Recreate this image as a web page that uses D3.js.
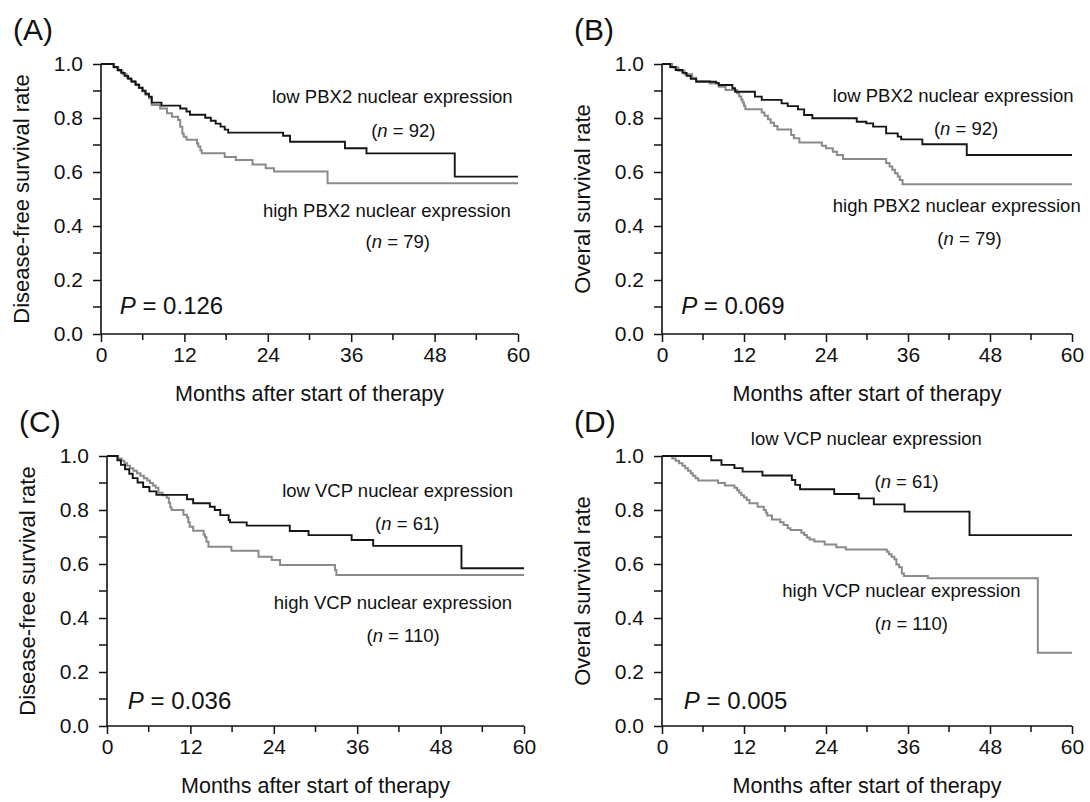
<!DOCTYPE html>
<html>
<head>
<meta charset="utf-8">
<script src="https://cdn.jsdelivr.net/npm/d3@7"></script>
<style>
  html, body { margin: 0; padding: 0; background: #fff; }
  svg { display: block; }
  text { font-family: "Liberation Sans", Arial, Helvetica, sans-serif; fill: #111; }
</style>
</head>
<body>
<svg id="chart" width="1090" height="802"></svg>
<script>
// ---------------- data ----------------
const xTickValues = [0, 12, 24, 36, 48, 60];
const xMinorTicks = [6, 18, 30, 42, 54];
const yTickValues = [0, 0.2, 0.4, 0.6, 0.8, 1.0];
const yMinorTicks = [0.1, 0.3, 0.5, 0.7, 0.9];
const xTitle = "Months after start of therapy";

// [month, survival]
const lowA = [[0,1],[1.8,.989],[2.4,.978],[2.9,.967],[3.4,.956],[3.9,.945],[4.4,.934],[5.0,.923],[5.5,.912],[6.0,.901],[6.4,.89],[6.9,.879],[7.3,.857],[8.7,.846],[11.4,.835],[12.3,.824],[12.8,.812],[15.0,.801],[15.8,.79],[16.5,.779],[17.2,.768],[17.8,.757],[18.3,.746],[26.2,.734],[27.2,.712],[35.1,.688],[38.2,.669],[50.9,.583]];
const highA = [[0,1],[1.9,.987],[2.5,.975],[3.1,.962],[3.7,.949],[4.3,.937],[4.9,.924],[5.4,.911],[5.9,.899],[6.4,.886],[6.9,.873],[7.3,.848],[8.5,.835],[9.5,.818],[10.2,.805],[11.1,.793],[11.4,.768],[11.7,.743],[11.9,.731],[12.3,.719],[13.8,.706],[14.0,.694],[14.3,.681],[14.5,.669],[17.8,.656],[19.4,.644],[21.8,.628],[23.7,.614],[24.9,.602],[32.6,.558]];

const lowB = [[0,1],[1.2,.989],[2.0,.978],[3.0,.967],[3.6,.956],[4.2,.945],[5.0,.934],[7.9,.93],[8.3,.922],[10.3,.91],[10.7,.897],[13.6,.879],[14.6,.867],[17.5,.854],[18.4,.844],[19.9,.832],[20.8,.811],[22.0,.799],[28.5,.786],[29.9,.78],[30.9,.768],[32.8,.743],[34.5,.731],[35.0,.721],[38.1,.703],[44.6,.663]];
const highB = [[0,1],[1.5,.987],[2.4,.975],[3.3,.962],[4.4,.949],[5.0,.937],[7.0,.928],[8.3,.916],[9.3,.904],[11.0,.892],[11.3,.88],[11.6,.868],[11.8,.857],[12.0,.845],[12.2,.832],[14.6,.82],[15.0,.808],[15.5,.795],[15.9,.782],[16.4,.77],[16.9,.757],[18.9,.737],[19.3,.725],[20.1,.709],[23.4,.697],[24.0,.688],[25.0,.675],[25.6,.663],[26.5,.648],[32.8,.633],[33.3,.62],[33.7,.608],[34.1,.595],[34.5,.583],[34.8,.57],[35.2,.555]];

const lowC = [[0,1],[1.5,.984],[2.0,.967],[2.6,.951],[3.2,.934],[3.7,.918],[4.4,.902],[5.2,.885],[6.1,.869],[7.1,.856],[11.5,.84],[12.4,.825],[14.8,.812],[15.5,.8],[16.3,.781],[17.5,.763],[17.7,.754],[20.1,.742],[26.3,.722],[29.0,.707],[35.2,.689],[38.3,.667],[51.0,.584]];
const highC = [[0,1],[1.6,.991],[2.1,.982],[2.5,.973],[2.9,.964],[3.3,.955],[3.8,.945],[4.3,.936],[4.8,.927],[5.3,.918],[5.8,.909],[6.2,.9],[6.6,.891],[7.0,.882],[7.4,.864],[8.0,.855],[8.6,.845],[8.9,.827],[9.1,.809],[9.3,.8],[11.0,.782],[11.5,.773],[11.7,.755],[11.9,.738],[12.4,.723],[13.9,.709],[14.1,.7],[14.3,.682],[14.6,.664],[17.9,.649],[21.8,.627],[23.7,.615],[24.9,.596],[32.8,.578],[33.0,.559]];

const lowD = [[0,1],[7.2,.984],[8.7,.967],[10.6,.955],[11.8,.942],[14.7,.928],[19.0,.911],[19.5,.893],[20.2,.877],[25.2,.859],[28.8,.843],[31.0,.821],[35.5,.794],[45.0,.707]];
const highD = [[0,1],[1.5,.991],[2.0,.982],[2.5,.973],[3.0,.964],[3.4,.955],[3.8,.945],[4.2,.936],[4.5,.927],[4.9,.918],[5.3,.909],[8.2,.9],[9.2,.891],[10.6,.882],[11.0,.873],[11.3,.864],[11.6,.855],[12.0,.846],[12.4,.837],[12.8,.825],[14.0,.812],[14.9,.8],[15.2,.79],[15.4,.78],[16.1,.765],[17.3,.755],[17.8,.744],[18.4,.732],[18.8,.726],[20.4,.716],[20.8,.707],[21.2,.698],[21.6,.691],[22.3,.683],[23.8,.672],[25.5,.662],[26.9,.654],[32.9,.645],[33.2,.636],[33.6,.627],[34.0,.618],[34.3,.598],[34.7,.588],[35.1,.565],[35.4,.556],[38.9,.547],[55.0,.271]];

const panelLabels = ["(A)", "(B)", "(C)", "(D)"];
const yTitles = ["Disease-free survival rate", "Overal survival rate", "Disease-free survival rate", "Overal survival rate"];
const lowLabels = ["low PBX2 nuclear expression", "low PBX2 nuclear expression", "low VCP nuclear expression", "low VCP nuclear expression"];
const highLabels = ["high PBX2 nuclear expression", "high PBX2 nuclear expression", "high VCP nuclear expression", "high VCP nuclear expression"];
const lowN = ["92", "92", "61", "61"];
const highN = ["79", "79", "110", "110"];
const pValues = ["0.126", "0.069", "0.036", "0.005"];

// ---------------- layout ----------------
const layout = [
  { x0: 101, x1: 518, yb: 334, yt: 64,
    lowPos: [24.6, .874], lowNPos: [43.5, .748], highPos: [23.3, .452], highNPos: [42.7, .337], pPos: [2.7, .096] },
  { x0: 662, x1: 1072, yb: 334, yt: 64,
    lowPos: [25.0, .878], lowNPos: [44.5, .756], highPos: [25.0, .47], highNPos: [45.0, .348], pPos: [2.8, .096] },
  { x0: 107, x1: 524, yb: 726, yt: 456,
    lowPos: [25.2, .867], lowNPos: [43.2, .744], highPos: [24.0, .452], highNPos: [42.6, .33], pPos: [3.0, .085] },
  { x0: 662, x1: 1072, yb: 726, yt: 456,
    lowPos: [13.0, 1.06], lowNPos: [35.8, .9], highPos: [17.6, .496], highNPos: [36.5, .374], pPos: [3.2, .085] }
];
const series = [[lowA, highA], [lowB, highB], [lowC, highC], [lowD, highD]];

const svg = d3.select("#chart");

layout.forEach((L, i) => {
  const x = d3.scaleLinear().domain([0, 60]).range([L.x0, L.x1]);
  const y = d3.scaleLinear().domain([0, 1]).range([L.yb, L.yt]);
  const g = svg.append("g");

  // axes
  const xAxis = d3.axisBottom(x).tickValues(xTickValues).tickSize(8).tickPadding(5).tickFormat(d3.format("d"));
  const yAxis = d3.axisLeft(y).tickValues(yTickValues).tickSize(8).tickPadding(10).tickFormat(d3.format(".1f"));
  const gx = g.append("g").attr("transform", `translate(0,${L.yb})`).call(xAxis);
  const gy = g.append("g").attr("transform", `translate(${L.x0},0)`).call(yAxis);
  [gx, gy].forEach(a => {
    a.select(".domain").attr("stroke", "#111").attr("stroke-width", 1.6);
    a.selectAll(".tick line").attr("stroke", "#111").attr("stroke-width", 1.5);
    a.selectAll(".tick text").style("font-size", "21px").attr("fill", "#111");
  });
  gy.select(".domain").attr("d", `M-0,${L.yb}V${L.yt}`);
  gx.select(".domain").attr("d", `M${L.x0},0H${L.x1}`);
  // minor ticks
  g.append("g").selectAll("line").data(xMinorTicks).join("line")
    .attr("x1", d => x(d)).attr("x2", d => x(d))
    .attr("y1", L.yb).attr("y2", L.yb + 6)
    .attr("stroke", "#111").attr("stroke-width", 1.5);
  g.append("g").selectAll("line").data(yMinorTicks).join("line")
    .attr("x1", L.x0 - 8).attr("x2", L.x0)
    .attr("y1", d => y(d)).attr("y2", d => y(d))
    .attr("stroke", "#111").attr("stroke-width", 1.5);

  // curves
  const line = d3.line().x(d => x(d[0])).y(d => y(d[1])).curve(d3.curveStepAfter);
  const [low, high] = series[i];
  const ext = s => s.concat([[60, s[s.length - 1][1]]]);
  g.append("path").datum(ext(high)).attr("d", line)
    .attr("fill", "none").attr("stroke", "#8a8a8a").attr("stroke-width", 2);
  g.append("path").datum(ext(low)).attr("d", line)
    .attr("fill", "none").attr("stroke", "#151515").attr("stroke-width", 1.9);

  // titles
  g.append("text").attr("x", L.x0 - 88).attr("y", L.yt - 32)
    .attr("dominant-baseline", "middle").style("font-size", "30px").text(panelLabels[i]);
  g.append("text")
    .attr("transform", `translate(${L.x0 - 78},${(L.yb + L.yt) / 2}) rotate(-90)`)
    .attr("text-anchor", "middle").attr("dominant-baseline", "middle")
    .style("font-size", "22px").text(yTitles[i]);
  g.append("text").attr("x", (L.x0 + L.x1) / 2).attr("y", L.yb + 61)
    .attr("text-anchor", "middle").attr("dominant-baseline", "middle")
    .style("font-size", "21.5px").text(xTitle);

  // annotations
  const ann = (pos, anchor) => g.append("text").attr("x", x(pos[0])).attr("y", y(pos[1]))
    .attr("text-anchor", anchor).attr("dominant-baseline", "middle").style("font-size", "18.5px");
  ann(L.lowPos, "start").text(lowLabels[i]);
  ann(L.highPos, "start").text(highLabels[i]);
  const nText = (pos, n) => {
    const t = ann(pos, "middle");
    t.append("tspan").text("(");
    t.append("tspan").style("font-style", "italic").text("n");
    t.append("tspan").text(" = " + n + ")");
  };
  nText(L.lowNPos, lowN[i]);
  nText(L.highNPos, highN[i]);
  const p = g.append("text").attr("x", x(L.pPos[0])).attr("y", y(L.pPos[1]))
    .attr("dominant-baseline", "middle").style("font-size", "24px");
  p.append("tspan").style("font-style", "italic").text("P");
  p.append("tspan").text(" = " + pValues[i]);
});
</script>
</body>
</html>
